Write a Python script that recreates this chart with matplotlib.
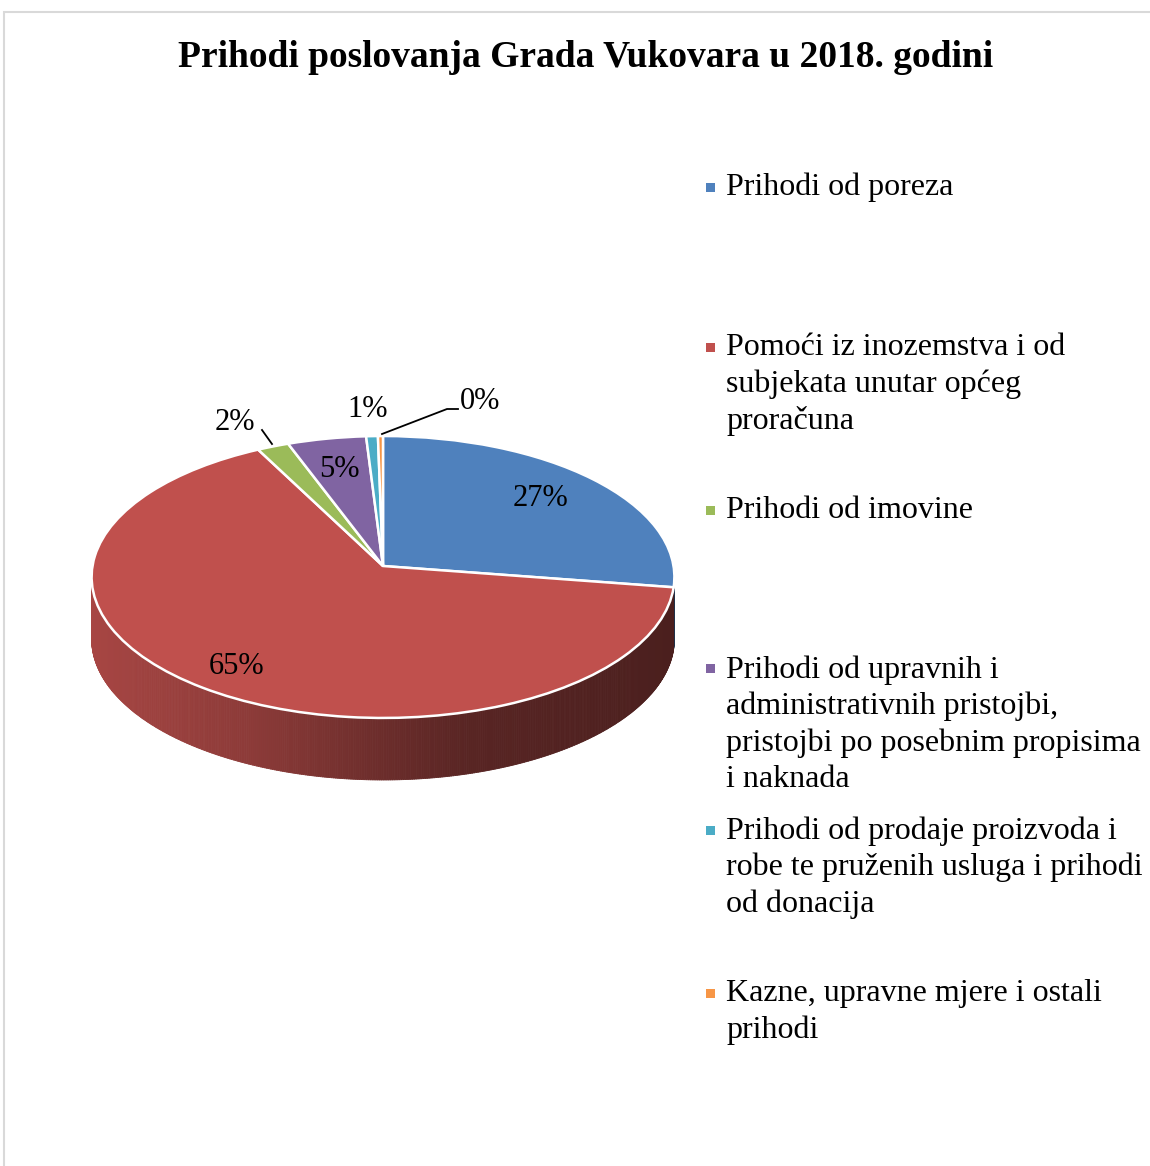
import matplotlib
matplotlib.use('Agg')
import matplotlib.pyplot as plt
import numpy as np
from matplotlib.patches import Rectangle
from matplotlib.lines import Line2D
from matplotlib.collections import PolyCollection
from matplotlib.colors import to_rgb
from matplotlib.transforms import Transform

plt.rcParams['font.family'] = ['Liberation Serif', 'DejaVu Serif']

naslov = "Prihodi poslovanja Grada Vukovara u 2018. godini"
kategorije = [
    "Prihodi od poreza",
    "Pomoći iz inozemstva i od\nsubjekata unutar općeg\nproračuna",
    "Prihodi od imovine",
    "Prihodi od upravnih i\nadministrativnih pristojbi,\npristojbi po posebnim propisima\ni naknada",
    "Prihodi od prodaje proizvoda i\nrobe te pruženih usluga i prihodi\nod donacija",
    "Kazne, upravne mjere i ostali\nprihodi",
]
udjeli = [27.4, 65.0, 1.9, 4.7, 0.7, 0.3]
boje = ['#4f81bd', '#c0504d', '#9bbb59', '#8064a2', '#4bacc6', '#f79646']

W, H = 1150, 1166
fig = plt.figure(figsize=(W / 100, H / 100), dpi=100)


def fx(x):
    return x / W


def fy(y):
    return 1 - y / H


class Perspektiva(Transform):
    """ Jednostavna perspektiva: straznji dio pite je manji """
    input_dims = 2
    output_dims = 2

    def __init__(self, p):
        super().__init__()
        self.p = p

    def transform_non_affine(self, xy):
        xy = np.asarray(xy, dtype=float)
        s = 1 + self.p * xy[:, 1]
        return np.column_stack([xy[:, 0] / s, xy[:, 1] / s])


# okvir grafikona
fig.add_artist(Rectangle((fx(4), fy(1200)), fx(1200), (1200 - 12) / H, fill=False,
                         edgecolor='#d9d9d9', linewidth=1.5, transform=fig.transFigure))

fig.text(fx(586), fy(67), naslov, ha='center', va='baseline', fontsize=27, fontweight='bold')

# pita - vrh i bocna strana
cx, cy, sx, sy, p, dub = 383, 566, 290.5, 140.1, 0.078, 62
x0, x1, y0, y1 = -1.2, 1.2, -1.8, 1.2
ax = fig.add_axes([fx(cx + x0 * sx), fy(cy - y0 * sy), (x1 - x0) * sx / W, (y1 - y0) * sy / H])
wedges, _ = ax.pie(udjeli, colors=boje, startangle=90, counterclock=False,
                   wedgeprops=dict(edgecolor='white', linewidth=1.8, zorder=3))
persp = Perspektiva(p)
for w in wedges:
    w.set_transform(persp + ax.transData)
ax.set_aspect('auto')
ax.set_xlim(x0, x1)
ax.set_ylim(y0, y1)
ax.axis('off')

d = dub / sy
polys, cols = [], []
for w, c in zip(wedges, boje):
    t = np.radians(np.arange(w.theta1, w.theta2 + 0.01, 0.4))
    for a, b in zip(t[:-1], t[1:]):
        if np.sin((a + b) / 2) >= -p:
            continue
        top = persp.transform(np.array([[np.cos(a), np.sin(a)], [np.cos(b), np.sin(b)]]))
        polys.append([tuple(top[0]), tuple(top[1]), (top[1, 0], top[1, 1] - d), (top[0, 0], top[0, 1] - d)])
        f = np.interp(top.mean(axis=0)[0], [-1, -0.45, 0, 0.3, 1], [0.87, 0.73, 0.56, 0.46, 0.39])
        cols.append(tuple(np.array(to_rgb(c)) * f))
ax.add_collection(PolyCollection(polys, facecolors=cols, edgecolors=cols, linewidths=0.6, zorder=1))

# oznake postotaka
oznake = [f"{v:.0f}%" for v in udjeli]
poz_oznaka = [(541, 506), (237, 674), (235, 430), (339, 477), (368, 417), (480, 409)]
for txt, (px, py) in zip(oznake, poz_oznaka):
    fig.text(fx(px), fy(py), txt, ha='center', va='baseline', fontsize=22)

for xs, ys in [([262, 272], [430, 444]), ([382, 447, 458], [434, 409, 409])]:
    fig.add_artist(Line2D([fx(v) for v in xs], [fy(v) for v in ys], color='black',
                          linewidth=1.3, transform=fig.transFigure))

# legenda (bazna linija prvog retka)
leg_y = [195, 355, 518, 676, 838, 1001]
razmak = 37
for txt, c, ly in zip(kategorije, boje, leg_y):
    n = txt.count("\n")
    fig.add_artist(Rectangle((fx(706), fy(ly - 3)), 9 / W, 9 / H, facecolor=c,
                             edgecolor='none', transform=fig.transFigure))
    fig.text(fx(726), fy(ly + n * razmak), txt, ha='left', va='baseline', fontsize=23,
             linespacing=1.315)

fig.savefig('out.png', dpi=100)
